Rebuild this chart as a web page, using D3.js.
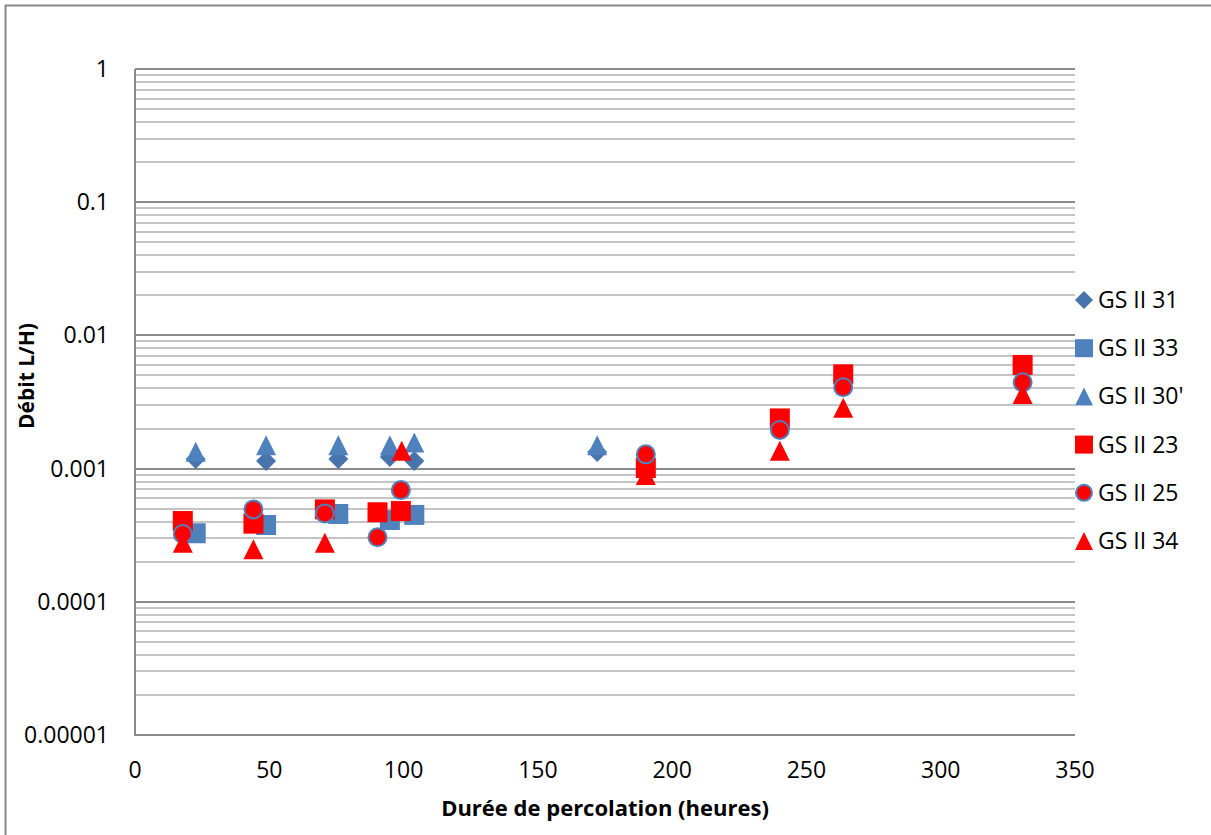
<!DOCTYPE html>
<html>
<head>
<meta charset="utf-8">
<script src="https://cdn.jsdelivr.net/npm/d3@7"></script>
<style>
  body { margin: 0; background: #fff; }
  text { font-family: "Open Sans", sans-serif; fill: #000; }
</style>
</head>
<body>
<div id="chart"></div>
<script>
// series values
var x31 = [22.6, 48.8, 75.7, 94.9, 104, 172.1];
var y31 = [0.00118, 0.00114, 0.00118, 0.00122, 0.00114, 0.00133];

var x33 = [22.6, 48.8, 75.7, 94.9, 104];
var y33 = [0.000327, 0.000377, 0.000456, 0.000411, 0.000449];

var x30 = [22.6, 48.8, 75.7, 94.9, 104, 172.1];
var y30 = [0.00134, 0.0015, 0.0015, 0.0015, 0.00157, 0.0015];

var x23 = [17.8, 44.1, 70.7, 90.3, 99, 190.2, 240.1, 263.7, 330.5];
var y23 = [0.000404, 0.000386, 0.000494, 0.00047, 0.00048, 0.00101, 0.00238, 0.0051, 0.006];

var x25 = [17.8, 44.1, 70.7, 90.3, 99, 190.2, 240.1, 263.7, 330.5];
var y25 = [0.000323, 0.000494, 0.000461, 0.000305, 0.00069, 0.00128, 0.00195, 0.00408, 0.00444];

var x34 = [17.8, 44.1, 70.7, 99.3, 190.2, 240.1, 263.7, 330.5];
var y34 = [0.000278, 0.000248, 0.000278, 0.00136, 0.000895, 0.00136, 0.00286, 0.00363];

var seriesNames = ["GS II 31", "GS II 33", "GS II 30'", "GS II 23", "GS II 25", "GS II 34"];
var xTicks = [0, 50, 100, 150, 200, 250, 300, 350];
var yTicks = [1, 0.1, 0.01, 0.001, 0.0001, 0.00001];
var yTickLabels = ["1", "0.1", "0.01", "0.001", "0.0001", "0.00001"];

var blue = "#4f81bd", darkBlue = "#4674ab", red = "#ff0000";

var series = [
  { name: seriesNames[0], xs: x31, ys: y31, shape: "diamond", fill: darkBlue, stroke: null },
  { name: seriesNames[1], xs: x33, ys: y33, shape: "square", fill: blue, stroke: null },
  { name: seriesNames[2], xs: x30, ys: y30, shape: "triangle", fill: blue, stroke: null },
  { name: seriesNames[3], xs: x23, ys: y23, shape: "square", fill: red, stroke: null },
  { name: seriesNames[4], xs: x25, ys: y25, shape: "circle", fill: red, stroke: blue },
  { name: seriesNames[5], xs: x34, ys: y34, shape: "triangle", fill: red, stroke: null }
];

var W = 1211, H = 835;
var margin = { top: 69, left: 135, right: 136, bottom: 100 };

var svg = d3.select("#chart").append("svg")
    .attr("width", W)
    .attr("height", H);

// outer chart border
svg.append("rect")
    .attr("x", 5.5).attr("y", 5.5)
    .attr("width", 1400).attr("height", 1000)
    .attr("fill", "none")
    .attr("stroke", "#898989")
    .attr("stroke-width", 2);

var x = d3.scaleLinear().domain([0, 350]).range([margin.left, W - margin.right]);
var y = d3.scaleLog().domain([0.00001, 1]).range([H - margin.bottom, margin.top]);

// minor gridlines 2..9 per decade
var minor = [];
for (var e = -5; e < 0; e++) {
  for (var m = 2; m <= 9; m++) minor.push(m * Math.pow(10, e));
}
svg.append("g").selectAll("line")
    .data(minor)
  .enter().append("line")
    .attr("x1", x(0)).attr("x2", x(350))
    .attr("y1", function(d) { return Math.round(y(d)); })
    .attr("y2", function(d) { return Math.round(y(d)); })
    .attr("stroke", "#c4c4c4")
    .attr("stroke-width", 2);

svg.append("g").selectAll("line")
    .data(yTicks)
  .enter().append("line")
    .attr("x1", x(0)).attr("x2", x(350))
    .attr("y1", function(d) { return Math.round(y(d)); })
    .attr("y2", function(d) { return Math.round(y(d)); })
    .attr("stroke", "#8a8a8a")
    .attr("stroke-width", 2);

// axis lines
svg.append("line")
    .attr("x1", x(0)).attr("x2", x(0))
    .attr("y1", y(1)).attr("y2", y(0.00001))
    .attr("stroke", "#8a8a8a").attr("stroke-width", 2);
svg.append("line")
    .attr("x1", x(0) - 1).attr("x2", x(350))
    .attr("y1", y(0.00001)).attr("y2", y(0.00001))
    .attr("stroke", "#8a8a8a").attr("stroke-width", 2);

// tick labels
svg.append("g").selectAll("text")
    .data(yTicks)
  .enter().append("text")
    .attr("x", 109)
    .attr("y", function(d) { return y(d); })
    .attr("dy", "0.35em")
    .attr("text-anchor", "end")
    .style("font-size", "23px")
    .text(function(d, i) { return yTickLabels[i]; });

svg.append("g").selectAll("text")
    .data(xTicks)
  .enter().append("text")
    .attr("x", function(d) { return x(d); })
    .attr("y", 770)
    .attr("dy", "0.35em")
    .attr("text-anchor", "middle")
    .style("font-size", "23px")
    .text(function(d) { return d; });

// axis titles
svg.append("text")
    .attr("x", (x(0) + x(350)) / 2)
    .attr("y", 808)
    .attr("dy", "0.35em")
    .attr("text-anchor", "middle")
    .style("font-size", "22px")
    .style("font-weight", "bold")
    .text("Durée de percolation (heures)");

svg.append("text")
    .attr("transform", "translate(27,376) rotate(-90)")
    .attr("dy", "0.35em")
    .attr("text-anchor", "middle")
    .style("font-size", "21px")
    .style("font-weight", "bold")
    .text("Débit L/H)");

function markerPath(shape, s) {
  var h = s / 2;
  if (shape === "square") return "M" + (-h) + "," + (-h) + "H" + h + "V" + h + "H" + (-h) + "Z";
  if (shape === "diamond") return "M0," + (-h) + "L" + h + ",0L0," + h + "L" + (-h) + ",0Z";
  if (shape === "triangle") return "M0," + (-h) + "L" + h + "," + h + "L" + (-h) + "," + h + "Z";
  return d3.symbol().type(d3.symbolCircle).size(Math.PI * h * h)();
}

function drawMarkers(g, s, size) {
  g.attr("d", markerPath(s.shape, s.shape === "circle" ? size - 2 : size))
    .attr("fill", s.fill)
    .attr("stroke", s.stroke ? s.stroke : "none")
    .attr("stroke-width", s.stroke ? 2 : 0);
}

// points
series.forEach(function(s) {
  var pts = s.xs.map(function(v, i) { return [v, s.ys[i]]; });
  svg.append("g").selectAll("path")
      .data(pts)
    .enter().append("path")
      .attr("transform", function(d) { return "translate(" + x(d[0]) + "," + y(d[1]) + ")"; })
      .call(drawMarkers, s, 20);
});

// legend
var legend = svg.append("g").selectAll("g")
    .data(series)
  .enter().append("g")
    .attr("transform", function(d, i) { return "translate(1084," + (300 + i * 48.2) + ")"; });

legend.each(function(s) {
  d3.select(this).append("path").call(drawMarkers, s, 18);
});

legend.append("text")
    .attr("x", 14)
    .attr("dy", "0.35em")
    .style("font-size", "23px")
    .text(function(d) { return d.name; });
</script>
</body>
</html>
